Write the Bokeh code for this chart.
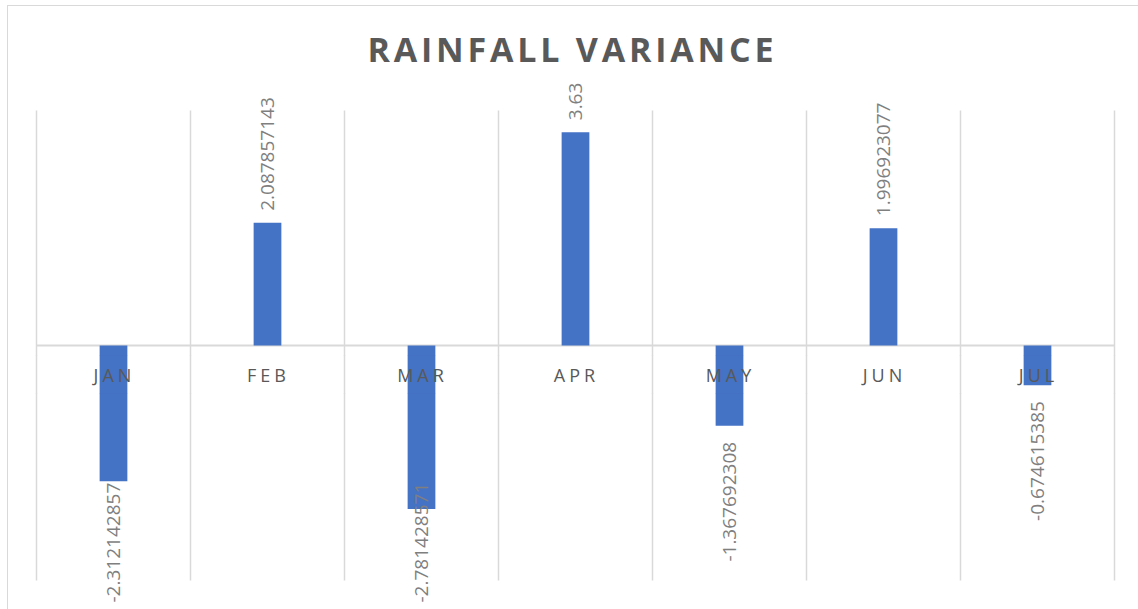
import numpy as np
from bokeh.plotting import figure
from bokeh.layouts import column
from bokeh.models import ColumnDataSource, LabelSet, Range1d
from bokeh.core.properties import value
from bokeh.embed import file_html
from bokeh.resources import INLINE

# ---- data ----
months = ["JAN", "FEB", "MAR", "APR", "MAY", "JUN", "JUL"]
variance = [-2.312142857, 2.087857143, -2.781428571, 3.63, -1.367692308, 1.996923077, -0.674615385]
value_labels = [str(v) for v in variance]
axis_min, axis_max = -4, 4

# ---- layout constants (page pixels) ----
W = 1130
TITLE_H = 68
PAGE_TOP = 6            # first content row (below the 1px border at y=5)
MAIN_TOP = PAGE_TOP + TITLE_H
BAND_TOP, BAND_BOTTOM = 356, 394   # strip that holds the category labels
PAGE_BOTTOM = 609
OVERLAP = 1             # strips overlap by one pixel so no seam shows
LEFT_PAD, RIGHT_PAD = 28, 24
AXIS_SPAN_PX = 470
PAGE_ZERO = 345

n = len(months)
cat_w = (W - LEFT_PAD - RIGHT_PAD) / n
ppu = AXIS_SPAN_PX / (axis_max - axis_min)

xs = np.arange(n) + 0.5
vals = np.array(variance)

# ---- title figure ----
tf = figure(width=W, height=TITLE_H, toolbar_location=None, output_backend="svg",
            min_border_left=0, min_border_right=0, min_border_top=66, min_border_bottom=0,
            outline_line_color=None, x_range=Range1d(0, 1), y_range=Range1d(0, 1),
            styles={"letter-spacing": "3.8px"})
tf.title.text = "RAINFALL VARIANCE"
tf.title.align = "left"
tf.title.offset = 359
tf.title.text_font = "Open Sans"
tf.title.text_font_size = "34px"
tf.title.text_font_style = "bold"
tf.title.text_color = "#595959"
tf.title.standoff = 2
tf.axis.visible = False
tf.grid.visible = False

x_range = Range1d(-LEFT_PAD / cat_w, n + RIGHT_PAD / cat_w)
bounds = np.arange(n + 1)


def chart_part(top_px, bottom_px, styles=None, fill="white"):
    lo = (PAGE_ZERO - bottom_px) / ppu
    hi = (PAGE_ZERO - top_px) / ppu
    f = figure(width=W, height=bottom_px - top_px, toolbar_location=None, output_backend="svg",
               x_range=x_range, y_range=Range1d(lo, hi),
               min_border_left=0, min_border_right=0, min_border_top=0, min_border_bottom=0,
               outline_line_color=None, background_fill_color=fill, border_fill_color=fill,
               styles=styles or {})
    f.axis.visible = False
    f.grid.visible = False
    f.segment(x0=bounds, y0=axis_min, x1=bounds, y1=axis_max, line_color="#d9d9d9", line_width=1.5)
    if lo < 0 < hi:
        f.segment(x0=[0], y0=[0], x1=[n], y1=[0], line_color="#d9d9d9", line_width=2)
    # only the portion of each bar that falls inside this strip
    eps = 2 / ppu
    b_top = np.maximum(vals, 0)
    b_bot = np.minimum(vals, 0)
    vis = (np.minimum(b_top, hi) > np.maximum(b_bot, lo))
    part = ColumnDataSource(dict(x=xs[vis],
                                 top=np.minimum(b_top, hi + eps)[vis],
                                 bottom=np.maximum(b_bot, lo - eps)[vis]))
    f.vbar(x="x", top="top", bottom="bottom", width=0.18, source=part,
           fill_color="#4472C4", line_color=None)
    return f


upper = chart_part(MAIN_TOP, BAND_TOP)
band = chart_part(BAND_TOP - OVERLAP, BAND_BOTTOM, fill=None,
                  styles={"letter-spacing": "4px", "margin-top": f"-{OVERLAP}px"})
lower = chart_part(BAND_BOTTOM - OVERLAP, PAGE_BOTTOM, fill=None,
                   styles={"margin-top": f"-{OVERLAP}px"})

# category labels (in the letter-spaced strip)
cat_src = ColumnDataSource(dict(x=xs, y=np.full(n, -29 / ppu), month=months))
band.add_layout(LabelSet(x="x", y="y", text="month", source=cat_src, x_offset=-5,
                         text_align="center", text_baseline="middle",
                         text_font=value("Open Sans"), text_font_size="18px", text_color="#595959"))

# data labels
label_len = 120 / ppu
gap_pos = 12 / ppu
gap_neg = 16 / ppu
y_limit = -(602 - PAGE_ZERO) / ppu

pos = vals > 0
neg_fit = (vals < 0) & (vals - gap_neg - label_len >= y_limit)
neg_clamp = (vals < 0) & ~neg_fit

common = dict(angle=np.pi / 2, text_baseline="middle", text_font=value("Open Sans"),
              text_font_size="19px", text_color="#7f7f7f")


def lbl_source(mask, ys):
    return ColumnDataSource(dict(x=xs[mask], y=np.asarray(ys)[mask],
                                 t=[value_labels[i] for i in range(n) if mask[i]]))


upper.add_layout(LabelSet(x="x", y="y", text="t", source=lbl_source(pos, vals + gap_pos),
                          text_align="left", **common))
lower.add_layout(LabelSet(x="x", y="y", text="t", source=lbl_source(neg_fit, vals - gap_neg),
                          text_align="right", **common))
lower.add_layout(LabelSet(x="x", y="y", text="t", source=lbl_source(neg_clamp, np.full(n, y_limit)),
                          text_align="left", **common))

layout = column(tf, upper, band, lower,
                styles={"border-top": "1px solid #d9d9d9", "border-left": "1px solid #d9d9d9",
                        "margin-left": "7px", "margin-top": "5px"})
open("out.html", "w").write(file_html(layout, INLINE))
